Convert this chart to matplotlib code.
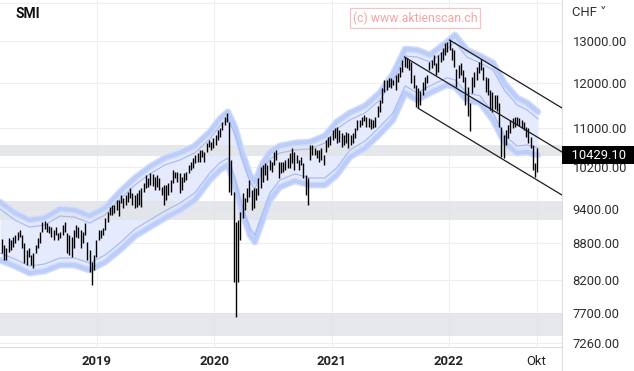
import matplotlib
matplotlib.use('Agg')
import matplotlib.pyplot as plt
import matplotlib.lines as mlines
from matplotlib.transforms import offset_copy, blended_transform_factory
from matplotlib.ticker import NullLocator
import pandas as pd

plt.rcParams['font.family'] = ['Roboto', 'DejaVu Sans']

# SMI weekly bars (week starting Monday)
first_week = '2018-03-12'
high = [
    8873, 8771, 8720, 8890, 8856, 8907, 8942, 8994, 9028, 8942,
    8805, 8687, 8720, 8604, 8637, 8771, 8890, 8994, 9169, 9186,
    9150, 9098, 9080, 9028, 9080, 8977, 8994, 9116, 9169, 8977,
    8942, 8907, 9028, 9116, 9080, 9028, 8994, 9151, 8822, 8687,
    8488, 8604, 8856, 9028, 9028, 9063, 9240, 9346, 9438, 9475,
    9475, 9567,
    9567, 9659, 9603, 9659, 9715, 9791, 9697, 9659, 9697, 9753,
    9791, 9887, 10040, 9982, 10079, 10060, 10002, 10040, 9982, 9810,
    9848, 9848, 9887, 9944, 10137, 10098, 10098, 10079, 10002, 10079,
    10098, 10235, 10295, 10375, 10435, 10470, 10536, 10536, 10495, 10680,
    10742, 10700, 10783, 10846, 10951, 10995, 11122, 11230, 11318,
    11122, 10335, 9715, 9169, 9204, 9347, 9697, 9603, 9791, 9944,
    9753, 9791, 9791, 9982, 10196, 10235, 10275, 10235, 10335, 10295,
    10495, 10536, 10295, 10295, 10295, 10335, 10375, 10475, 10576, 10495,
    10435, 10335, 10395, 10275, 10040, 9982, 10638, 10638, 10576, 10536,
    10536, 10576, 10435, 10742, 10800,
    10825, 10951, 10995, 11015, 10960, 10888, 10846, 10909, 10888, 10846,
    10888, 10995, 11165, 11165, 11230, 11273, 11230, 11209, 11187, 11165,
    11230, 11470, 11605, 11877, 12062, 12062, 12109, 12109, 12062, 12179,
    12227, 12369, 12537, 12606, 12582, 12537, 12489, 12179, 11946, 11877,
    11800, 12015, 12131, 12179, 12489, 12537, 12654, 12465, 12654, 12727,
    12826, 12950, 12975,
    13025, 12826, 12776, 12322, 12417, 12465, 12298, 12131, 11900, 11538,
    12131, 12250, 12369, 12489, 12561, 12369, 12131, 12109, 11831, 11785,
    11717, 11717, 11538, 11015, 10846, 10951, 11058, 11165, 11209, 11230,
    11230, 11209, 11165, 11122, 11015, 10995, 10804, 10638, 10275, 10576,
]
low = [
    8637, 8521, 8521, 8654, 8687, 8737, 8805, 8856, 8907, 8720,
    8472, 8439, 8571, 8439, 8390, 8637, 8720, 8805, 8994, 9045,
    9000, 8977, 8907, 8856, 8942, 8856, 8890, 8942, 8994, 8637,
    8604, 8571, 8720, 8907, 8890, 8720, 8805, 8942, 8521, 8325,
    8120, 8358, 8571, 8856, 8890, 8942, 9028, 9169, 9294, 9294,
    9330, 9383,
    9276, 9512, 9420, 9475, 9530, 9603, 9475, 9420, 9438, 9475,
    9438, 9715, 9791, 9810, 9848, 9830, 9753, 9810, 9753, 9659,
    9475, 9567, 9659, 9715, 9887, 9982, 9906, 9697, 9753, 9906,
    9944, 10079, 10137, 10176, 10275, 10300, 10295, 10395, 10295, 10495,
    10596, 10536, 10576, 10638, 10742, 10804, 10951, 11058, 11122,
    9715, 9659, 8170, 7627, 8170, 8856, 9240, 9383, 9530, 9621,
    9383, 9420, 9567, 9659, 9791, 9906, 10040, 9944, 10137, 10098,
    10235, 10335, 9982, 10079, 10098, 10137, 10176, 10176, 10275, 10137,
    10275, 10137, 10235, 9982, 9659, 9475, 10335, 10435, 10435, 10375,
    10295, 10335, 10235, 10495, 10600,
    10638, 10742, 10783, 10680, 10700, 10596, 10638, 10680, 10576, 10638,
    10680, 10783, 10951, 11015, 11058, 11144, 11015, 11015, 10973, 10995,
    11015, 11230, 11340, 11538, 11785, 11831, 11900, 11877, 11946, 11831,
    12015, 12131, 12250, 12369, 12345, 12298, 11992, 11877, 11448, 11426,
    11500, 11717, 11831, 11992, 12298, 12345, 12417, 12179, 12250, 12489,
    12537, 12654, 12727,
    12776, 12537, 12369, 11900, 12108, 12179, 12015, 11493, 11251, 10930,
    11762, 11900, 12062, 12227, 12298, 12062, 11785, 11717, 11383, 11340,
    11404, 11361, 11015, 10395, 10375, 10638, 10783, 10888, 10995, 11015,
    11058, 11036, 10995, 10951, 10804, 10680, 10576, 10137, 10002, 10098,
]
last_price = 10429.10

# envelope band
band_dates = ['2018-03-06', '2018-04-21', '2018-06-06', '2018-07-23', '2018-09-08',
              '2018-10-24', '2018-12-10', '2019-01-27', '2019-03-14', '2019-04-30',
              '2019-06-15', '2019-08-01', '2019-09-17', '2019-11-02', '2019-12-19',
              '2020-01-19', '2020-02-13', '2020-03-06', '2020-03-28', '2020-04-22',
              '2020-05-07', '2020-05-29', '2020-06-23', '2020-07-24', '2020-09-09',
              '2020-10-26', '2020-12-11', '2021-01-17', '2021-02-27', '2021-04-15',
              '2021-05-31', '2021-07-11', '2021-08-18', '2021-09-24', '2021-11-03',
              '2021-12-26', '2022-01-20', '2022-02-26', '2022-04-08', '2022-05-18',
              '2022-06-24', '2022-08-01', '2022-09-01', '2022-10-05']
band_upper = [9530, 9330, 9204, 9240, 9401, 9383, 9276, 9420, 9715, 9982,
              10196, 10375, 10475, 10617, 10909, 11187, 11340, 11015, 10495, 10040,
              9906, 10235, 10495, 10617, 10680, 10700, 10825, 11122, 11318, 11470,
              11762, 12202, 12801, 12776, 12654, 12975, 13151, 12776, 12630, 12465,
              11970, 11650, 11538, 11340]
band_lower = [8521, 8423, 8309, 8342, 8439, 8439, 8358, 8488, 8687, 8925,
              9080, 9240, 9383, 9567, 9944, 10137, 10235, 9848, 9347, 8942,
              8822, 9169, 9567, 9810, 9925, 9848, 9848, 10040, 10395, 10576,
              10868, 11165, 11762, 11605, 11762, 11946, 11900, 11605, 11538, 11165,
              10680, 10475, 10495, 10435]

# grey support zones
zone_low = [10414, 9212, 7360]
zone_high = [10637, 9548, 7690]

# trend channel
channel_start = ['2022-01-03', '2021-08-16', '2021-09-27']
channel_start_val = [13025, 12606, 11420]
channel_end = '2022-12-19'
channel_end_val = [11424, 10495, 9659]

y_ticks = [7260, 7700, 8200, 8800, 9400, 10200, 11000, 12000, 13000, 14000]
x_ticks = ['2019-01-01', '2020-01-01', '2021-01-01', '2022-01-01', '2022-10-01']
x_labels = ['2019', '2020', '2021', '2022', 'Okt']

weeks = pd.date_range(first_week, periods=len(high), freq='7D')
bd = pd.to_datetime(band_dates)

fig = plt.figure(figsize=(6.34, 3.71), dpi=100)
ax = fig.add_axes([0, 24 / 371, 562 / 634, 347 / 371])
ax.set_yscale('log')

ax.fill_between(bd, band_lower, band_upper, color='#e5eafd', lw=0, zorder=1)
for lo, hi in zip(zone_low, zone_high):
    ax.axhspan(lo, hi, color='#e2e3e8', alpha=0.85, lw=0, zorder=1.5)
# soft outer edge of the band
for lw, col in [(5.0, '#d3defc'), (3.0, '#bccdfa')]:
    ax.plot(bd, band_upper, color=col, lw=lw, zorder=2, solid_capstyle='round')
    ax.plot(bd, band_lower, color=col, lw=lw, zorder=2, solid_capstyle='round')
shift_dn = offset_copy(ax.transData, fig=fig, y=-7, units='dots')
shift_up = offset_copy(ax.transData, fig=fig, y=7, units='dots')
ax.plot(bd, band_upper, transform=shift_dn, color='#a9bcf5', lw=0.9, zorder=2.1)
ax.plot(bd, band_lower, transform=shift_up, color='#a9bcf5', lw=0.9, zorder=2.1)

ax.vlines(weeks, low, high, color='black', lw=1.0, zorder=3)

for s, sv, ev in zip(channel_start, channel_start_val, channel_end_val):
    ax.plot([pd.Timestamp(s), pd.Timestamp(channel_end)], [sv, ev],
            color='#1c1c1c', lw=0.9, zorder=4)

ax.set_xlim(pd.Timestamp('2018-03-06'), pd.Timestamp('2022-12-19'))
ax.set_ylim(7205, 14070)

ax.yaxis.tick_right()
ax.set_yticks(y_ticks)
ax.set_yticklabels(['{:.2f}'.format(v) if v < 14000 else '' for v in y_ticks])
ax.yaxis.set_minor_locator(NullLocator())
ax.set_xticks(pd.to_datetime(x_ticks))
ax.set_xticklabels(x_labels)
for lbl in ax.get_xticklabels()[:4]:
    lbl.set_fontweight('bold')
ax.tick_params(axis='y', length=0, pad=7.5, labelsize=9.4, labelcolor='#2e2e2e')
ax.tick_params(axis='x', length=0, pad=6, labelsize=9.4, labelcolor='#222222')
ax.grid(color='#eeeeee', lw=0.8, zorder=0)
ax.set_axisbelow(True)

for side in ['top', 'left']:
    ax.spines[side].set_visible(False)
for side in ['right', 'bottom']:
    ax.spines[side].set_color('#dddddd')
    ax.spines[side].set_linewidth(0.8)
fig.add_artist(mlines.Line2D([562 / 634] * 2, [0, 24 / 371], transform=fig.transFigure,
                             color='#dddddd', lw=0.8))

# last price tag
trans = blended_transform_factory(ax.transAxes, ax.transData)
ax.annotate('  {:.2f}  '.format(last_price), xy=(1, last_price), xycoords=trans,
            xytext=(2.6, 0), textcoords='offset pixels', ha='left', va='center',
            color='white', fontsize=9.4,
            bbox=dict(boxstyle='square,pad=0.2', fc='black', ec='none'),
            annotation_clip=False, zorder=10)

fig.text(16 / 634, 1 - 14 / 371, 'SMI', fontsize=10, fontweight='bold', va='center', color='#111111')
fig.text(572 / 634, 1 - 13 / 371, 'CHF \u02c5', fontsize=9.4, va='center', color='#2e2e2e')
fig.text(415 / 634, 1 - 18 / 371, '(c) www.aktienscan.ch', fontsize=8.8, ha='center', va='center',
         color='#f4a3a3',
         bbox=dict(boxstyle='square,pad=0.25', fc='white', ec='#f7c2c2', lw=0.9))

fig.savefig('out.png', dpi=100)
